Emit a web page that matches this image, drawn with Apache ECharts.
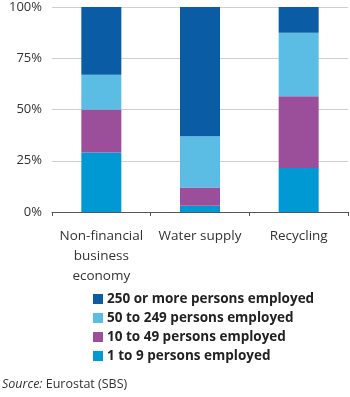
<!DOCTYPE html>
<html>
<head>
<meta charset="utf-8">
<script src="https://cdn.jsdelivr.net/npm/echarts@6/dist/echarts.min.js"></script>
<style>
  html, body { margin: 0; padding: 0; background: #fff; }
  #chart { width: 350px; height: 397px; }
</style>
</head>
<body>
<div id="chart"></div>
<script>
// categories on the x axis
const categories = ['Non-financial\nbusiness\neconomy', 'Water supply', 'Recycling'];
// shares (%) per size class
const micro = [29, 3, 21.5];      // 1 to 9
const small = [21, 9, 35];        // 10 to 49
const medium = [17, 25, 31];      // 50 to 249
const large = [33, 63, 12.5];     // 250 or more
const yTicks = [0, 25, 50, 75, 100];

const names = {
  micro: '1 to 9 persons employed',
  small: '10 to 49 persons employed',
  medium: '50 to 249 persons employed',
  large: '250 or more persons employed'
};

let myChart = echarts.init(document.getElementById('chart'));

function bar(name, data, color) {
  return {
    name: name,
    type: 'bar',
    stack: 'total',
    data: data,
    barWidth: 40,
    itemStyle: { color: color },
    emphasis: { disabled: true }
  };
}

let option = {
  animation: false,
  textStyle: { fontFamily: 'Open Sans' },
  grid: { left: 52, right: 2, top: 7, bottom: 185 },
  xAxis: {
    type: 'category',
    data: categories,
    axisLine: { lineStyle: { color: '#555', width: 1 } },
    axisTick: { show: true, length: 4, lineStyle: { color: '#555' } },
    axisLabel: {
      color: '#333',
      fontSize: 13.5,
      lineHeight: 20,
      margin: 14,
      interval: 0
    }
  },
  yAxis: {
    type: 'value',
    min: yTicks[0],
    max: yTicks[yTicks.length - 1],
    interval: 25,
    axisLine: { show: false },
    axisTick: { show: false },
    axisLabel: { color: '#333', fontSize: 13, margin: 10, formatter: '{value}%' },
    splitLine: { lineStyle: { color: '#cfcfcf', width: 1 } }
  },
  legend: {
    orient: 'vertical',
    left: 88,
    top: 287,
    itemWidth: 10,
    itemHeight: 10,
    itemGap: 5,
    icon: 'rect',
    textStyle: { fontSize: 13.5, fontWeight: 'bold', color: '#222', padding: [0, 0, 0, -1] },
    data: [names.large, names.medium, names.small, names.micro]
  },
  graphic: [{
    type: 'text',
    left: 2,
    top: 378,
    style: {
      text: '{i|Source:} Eurostat (SBS)',
      fontSize: 12.5,
      fill: '#333',
      fontFamily: 'Open Sans',
      rich: { i: { fontStyle: 'italic', fontSize: 12.5, fontFamily: 'Open Sans' } }
    }
  }],
  series: [
    bar(names.micro, micro, '#0099d3'),
    bar(names.small, small, '#9b4f9b'),
    bar(names.medium, medium, '#5bbce4'),
    bar(names.large, large, '#0a5ca5')
  ]
};
myChart.setOption(option);
</script>
</body>
</html>
